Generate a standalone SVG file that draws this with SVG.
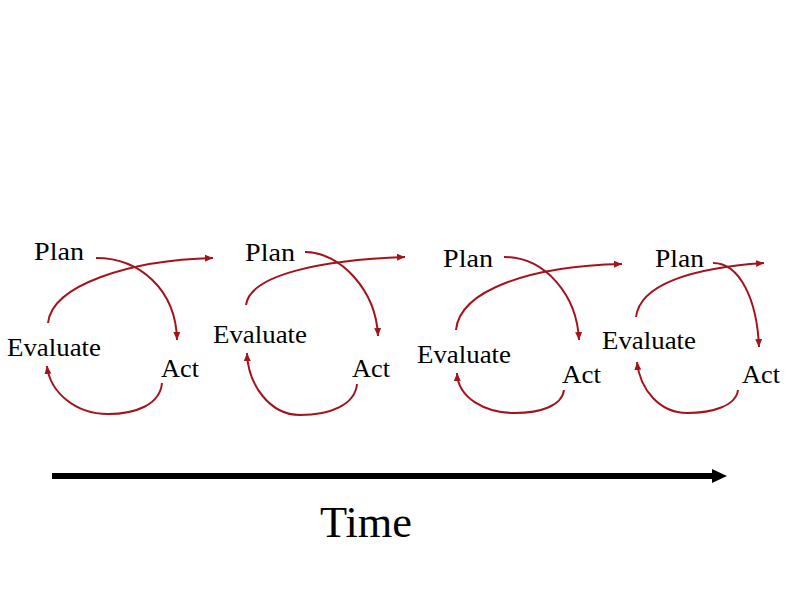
<svg xmlns="http://www.w3.org/2000/svg" width="792" height="612" viewBox="0 0 792 612">
<defs>
<style>
.lbl{font-family:"Liberation Serif","Times New Roman",serif;font-size:24.5px;fill:#000}
.c{fill:none;stroke:#A5121C;stroke-width:2;marker-end:url(#ah)}
</style>
<marker id="ah" markerUnits="userSpaceOnUse" markerWidth="9" markerHeight="8" refX="8" refY="3.5" orient="auto">
<path d="M0,0 L8,3.5 L0,7 z" fill="#A5121C"/>
</marker>
</defs>
<rect width="792" height="612" fill="#fff"/>
<g id="connectors">
<path class="c" d="M96,258 C140,258 176,290 177,340"/>
<path class="c" d="M48,323 C52,285 130,260 213,258"/>
<path class="c" d="M162,383 C160,405 135,414 108,414 C75,414 50,392 47,366"/>
<path class="c" d="M305,252 C340,252 376,290 378,336"/>
<path class="c" d="M246,305 C250,275 320,260 405,257"/>
<path class="c" d="M357,384 C355,405 330,415 300,415 C270,415 248,385 247,353"/>
<path class="c" d="M504,257 C545,257 577,295 579,340"/>
<path class="c" d="M456,330 C460,290 530,266 622,264"/>
<path class="c" d="M564,390 C562,406 540,413 515,413 C485,413 458,398 457,373"/>
<path class="c" d="M713,263 C740,263 757,300 759,347"/>
<path class="c" d="M636,317 C640,285 690,268 764,263"/>
<path class="c" d="M738,390 C736,406 712,413 687,413 C660,413 640,390 637,362"/>
</g>
<g id="plan1"><text class="lbl" x="34" y="260" textLength="50" lengthAdjust="spacingAndGlyphs">Plan</text></g>
<g id="evaluate1"><text class="lbl" x="7" y="356" textLength="94" lengthAdjust="spacingAndGlyphs">Evaluate</text></g>
<g id="act1"><text class="lbl" x="161" y="377" textLength="38" lengthAdjust="spacingAndGlyphs">Act</text></g>
<g id="plan2"><text class="lbl" x="245" y="261" textLength="50" lengthAdjust="spacingAndGlyphs">Plan</text></g>
<g id="evaluate2"><text class="lbl" x="213" y="343" textLength="94" lengthAdjust="spacingAndGlyphs">Evaluate</text></g>
<g id="act2"><text class="lbl" x="352" y="377" textLength="38" lengthAdjust="spacingAndGlyphs">Act</text></g>
<g id="plan3"><text class="lbl" x="443" y="267" textLength="50" lengthAdjust="spacingAndGlyphs">Plan</text></g>
<g id="evaluate3"><text class="lbl" x="417" y="363" textLength="94" lengthAdjust="spacingAndGlyphs">Evaluate</text></g>
<g id="act3"><text class="lbl" x="562" y="383" textLength="39" lengthAdjust="spacingAndGlyphs">Act</text></g>
<g id="plan4"><text class="lbl" x="655" y="267" textLength="49" lengthAdjust="spacingAndGlyphs">Plan</text></g>
<g id="evaluate4"><text class="lbl" x="602" y="349" textLength="94" lengthAdjust="spacingAndGlyphs">Evaluate</text></g>
<g id="act4"><text class="lbl" x="742" y="383" textLength="38" lengthAdjust="spacingAndGlyphs">Act</text></g>
<g id="time-axis">
<line x1="52" y1="476" x2="714" y2="476" stroke="#000" stroke-width="6"/>
<polygon points="712,469 727,476 712,483" fill="#000"/>
<text x="320" y="537" font-family="Liberation Serif, Times New Roman, serif" font-size="44" textLength="92" lengthAdjust="spacingAndGlyphs">Time</text>
</g>
</svg>
